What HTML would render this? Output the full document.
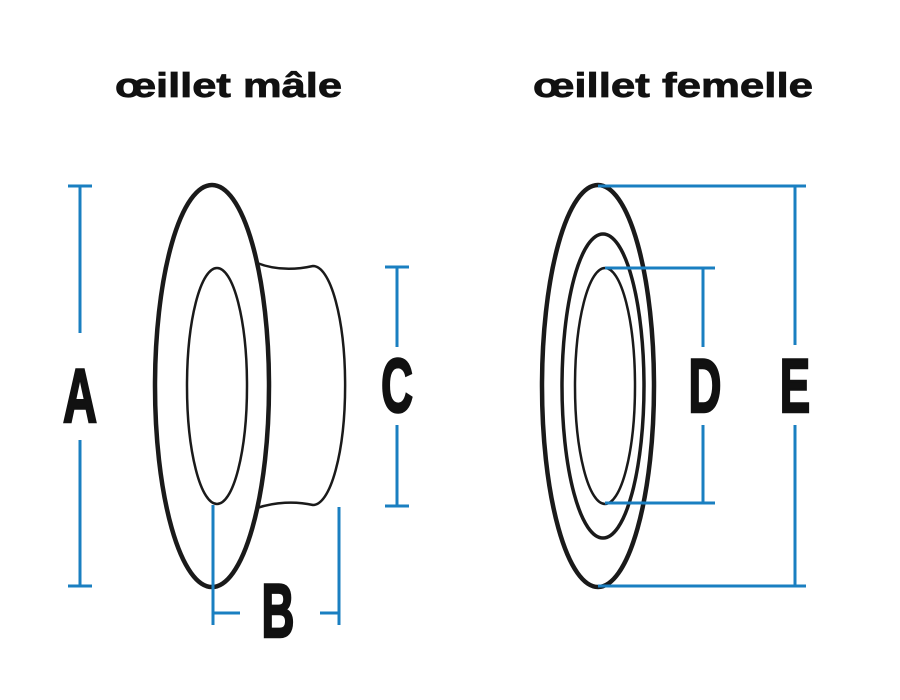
<!DOCTYPE html>
<html><head><meta charset="utf-8"><style>
html,body{margin:0;padding:0;background:#fff;width:900px;height:700px;overflow:hidden}
</style></head><body>
<svg width="900" height="700" viewBox="0 0 900 700" xmlns="http://www.w3.org/2000/svg">
<g font-family="Liberation Sans, sans-serif" font-weight="bold" fill="#111" stroke="#111" stroke-width="0.8">
<text x="115" y="97" font-size="34" textLength="227" lengthAdjust="spacingAndGlyphs">œillet mâle</text>
<text x="533" y="97" font-size="34" textLength="280" lengthAdjust="spacingAndGlyphs">œillet femelle</text>
</g>
<g fill="none" stroke="#1a1a1a">
<path d="M257,263 C275,270 295,270 313,266 A32,119 0 0 1 313,505 C295,501 275,502 257,508" stroke-width="2.5" fill="#fff"/>
<ellipse cx="212" cy="386" rx="57" ry="201" stroke-width="4.5" fill="#fff"/>
<ellipse cx="217" cy="386" rx="30" ry="118" stroke-width="2.5"/>
<ellipse cx="598" cy="386" rx="56" ry="201" stroke-width="4.5"/>
<ellipse cx="603" cy="386" rx="41" ry="152" stroke-width="3.5"/>
<ellipse cx="605" cy="386" rx="30" ry="118" stroke-width="2.5"/>
</g>
<g stroke="#1a7fc1" stroke-width="3" fill="none">
<path d="M80,186V333M80,440V586M68,186H92M68,586H92"/>
<path d="M397,267V347M397,425V506M385,267H409M385,506H409"/>
<path d="M213,505V625M339,507V625M213,613H240M320,613H339"/>
<path d="M598,186H806M598,586H806M795,186V345M795,425V586"/>
<path d="M605,268H715M605,503H715M703,268V347M703,425V503"/>
</g>
<g font-family="Liberation Sans, sans-serif" font-weight="bold" fill="#111" stroke="#111" stroke-width="2.5" font-size="76" text-anchor="middle">
<text x="80" y="422" transform="translate(80 0) scale(0.62 1) translate(-80 0)">A</text>
<text x="397" y="412" transform="translate(397 0) scale(0.58 1) translate(-397 0)">C</text>
<text x="278" y="637" transform="translate(278 0) scale(0.6 1) translate(-278 0)">B</text>
<text x="705" y="412" transform="translate(705 0) scale(0.6 1) translate(-705 0)">D</text>
<text x="795" y="412" transform="translate(795 0) scale(0.6 1) translate(-795 0)">E</text>
</g>
</svg>
</body></html>
